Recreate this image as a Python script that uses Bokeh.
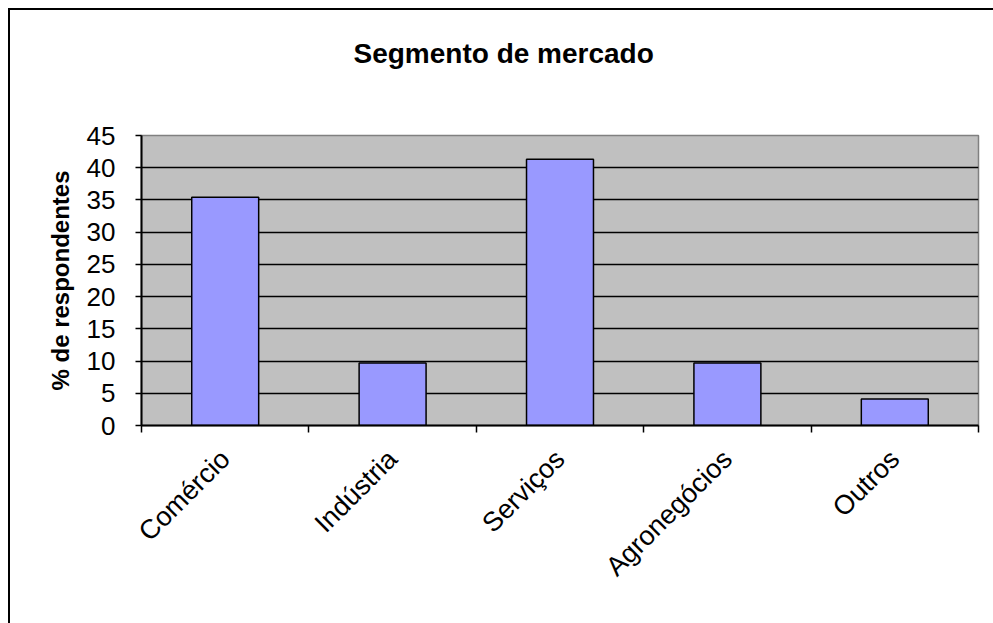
import math
from bokeh.plotting import figure
from bokeh.models import FixedTicker, Range1d, Title, InlineStyleSheet
from bokeh.embed import file_html
from bokeh.resources import INLINE

# ---- data ----
categories = ["Comércio", "Indústria", "Serviços", "Agronegócios", "Outros"]
values = [35.4, 9.7, 41.3, 9.7, 4.1]
y_ticks = [0, 5, 10, 15, 20, 25, 30, 35, 40, 45]
title_text = "Segmento de mercado"
y_label = "% de respondentes"

n = len(categories)
centers = [i + 0.5 for i in range(n)]
bounds = list(range(n + 1))

FONT = "Liberation Sans"

p = figure(
    width=993, height=623,
    output_backend="svg", toolbar_location=None,
    x_range=Range1d(0, n), y_range=Range1d(0, 45),
    min_border_left=141, min_border_right=15,
    min_border_top=135, min_border_bottom=198,
    background_fill_color="#C0C0C0",
    border_fill_color="white",
    outline_line_color="#808080", outline_line_width=1.5,
)
p.title = None
# spacer between frame and title, then the title itself
p.add_layout(Title(text=" ", text_font_size="1px", standoff=30), "above")
p.add_layout(Title(text=title_text, align="left", offset=212,
                   text_font=FONT, text_font_size="28px", text_font_style="bold",
                   text_color="black", standoff=68), "above")

p.vbar(x=centers, top=values, width=0.4, bottom=0,
       fill_color="#9999FF", line_color="black", line_width=1.5)

# grid
p.xgrid.visible = False
p.ygrid.ticker = FixedTicker(ticks=y_ticks)
p.ygrid.grid_line_color = "black"
p.ygrid.grid_line_width = 1.5

# y axis
ya = p.yaxis[0]
ya.ticker = FixedTicker(ticks=y_ticks)
ya.axis_line_color = "black"
ya.axis_line_width = 2
ya.major_tick_line_color = "black"
ya.major_tick_line_width = 1.5
ya.major_tick_out = 6
ya.major_tick_in = 0
ya.minor_tick_line_color = None
ya.major_label_text_font = FONT
ya.major_label_text_font_size = "26px"
ya.major_label_text_color = "black"
ya.major_label_standoff = 20
ya.axis_label = y_label
ya.axis_label_text_font = FONT
ya.axis_label_text_font_size = "24px"
ya.axis_label_text_font_style = "bold"
ya.axis_label_text_color = "black"
ya.axis_label_standoff = 10

# x axis: labels at category centres, ticks at category boundaries
xa = p.xaxis[0]
xa.ticker = FixedTicker(ticks=centers, minor_ticks=bounds)
xa.major_label_overrides = {c: lab for c, lab in zip(centers, categories)}
xa.axis_line_color = "black"
xa.axis_line_width = 2
xa.major_tick_line_color = None
xa.major_tick_out = 0
xa.major_tick_in = 0
xa.minor_tick_line_color = "black"
xa.minor_tick_line_width = 1.5
xa.minor_tick_out = 7
xa.minor_tick_in = 0
xa.major_label_orientation = math.pi / 4
xa.major_label_text_font = FONT
xa.major_label_text_font_size = "27px"
xa.major_label_text_color = "black"
xa.major_label_standoff = 22

# outer chart-area border (only top/left edges fall inside the window)
p.stylesheets = [InlineStyleSheet(css="""
:host { overflow: hidden; position: relative; }
:host::after {
  content: "";
  position: absolute;
  left: 8px; top: 8px; right: -40px; bottom: -40px;
  border: 2px solid black;
  pointer-events: none;
  z-index: 10;
}
""")]

open("out.html", "w").write(file_html(p, INLINE))
